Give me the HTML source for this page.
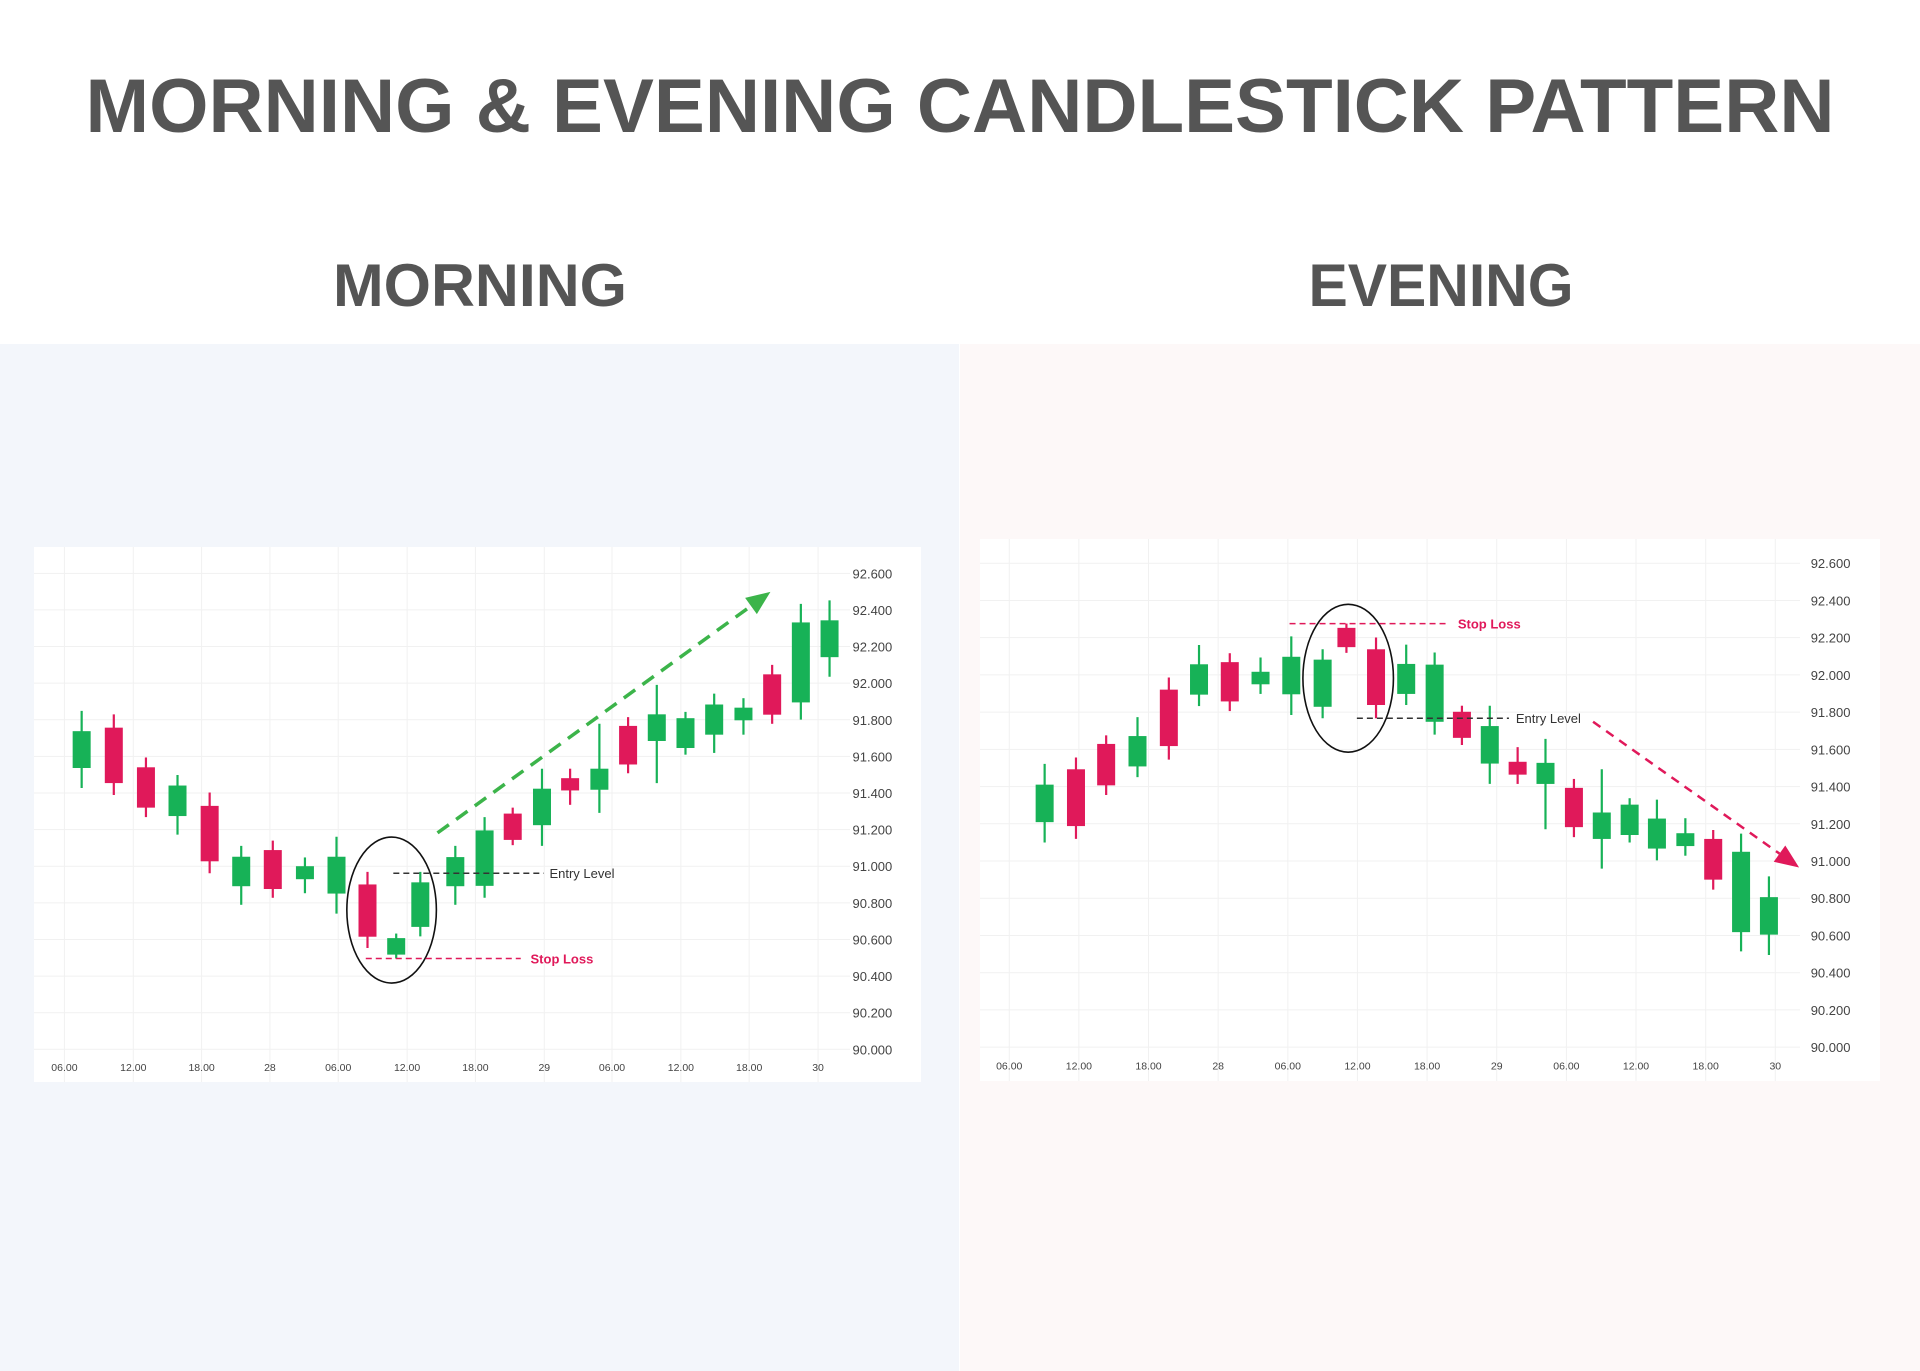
<!DOCTYPE html>
<html><head><meta charset="utf-8">
<style>
html,body{margin:0;padding:0;background:#fff;}
svg{display:block;}
text{font-family:"Liberation Sans",sans-serif;}
</style></head>
<body>
<svg id="s" width="1920" height="1371" viewBox="0 0 1920 1371" xmlns="http://www.w3.org/2000/svg">
<rect x="0" y="0" width="1920" height="1371" fill="#fff"/>
<rect x="0" y="344" width="959" height="1027" fill="#f3f6fb"/>
<rect x="960" y="344" width="960" height="1027" fill="#fdf8f8"/>
<text x="960" y="132" text-anchor="middle" font-size="76" font-weight="bold" fill="#555" textLength="1749" lengthAdjust="spacingAndGlyphs">MORNING &amp; EVENING CANDLESTICK PATTERN</text>
<text x="480" y="306" text-anchor="middle" font-size="60" font-weight="bold" fill="#555" textLength="294" lengthAdjust="spacingAndGlyphs">MORNING</text>
<text x="1441" y="306" text-anchor="middle" font-size="60" font-weight="bold" fill="#555" textLength="265" lengthAdjust="spacingAndGlyphs">EVENING</text>
<rect x="34" y="547" width="887" height="535" fill="#fff"/>
<rect x="980" y="539" width="900" height="542" fill="#fff"/>
<g id="g"></g>
</svg>
<script>
var G='#17b257',R='#e0195a',NS='http://www.w3.org/2000/svg',g=document.getElementById('g');
function el(t,a,txt){var e=document.createElementNS(NS,t);for(var k in a)e.setAttribute(k,a[k]);if(txt)e.textContent=txt;g.appendChild(e);return e;}
function chart(c){
 var X=function(z){return c.ox+z*c.sx},Y=function(z){return c.oy+z*c.sy};
 // grid
 c.xl.forEach(function(z){el('line',{x1:X(z),x2:X(z),y1:c.top,y2:c.bot,stroke:'#f1f1f1','stroke-width':1});});
 for(var i=0;i<14;i++){var zy=c.y0+i*(c.y1-c.y0)/13;el('line',{x1:c.left,x2:c.right,y1:Y(zy),y2:Y(zy),stroke:'#f1f1f1','stroke-width':1});
  el('text',{x:X(c.ylx),y:Y(zy)+5,'font-size':13,fill:'#444'},(92.6-i*0.2).toFixed(3));}
 var lab=['06.00','12.00','18.00','28','06.00','12.00','18.00','29','06.00','12.00','18.00','30'];
 c.xl.forEach(function(z,i){el('text',{x:X(z),y:Y(c.xly)+4,'font-size':10.5,fill:'#444','text-anchor':'middle'},lab[i]);});
 c.cs.forEach(function(d){var x=X(d[0]),col=d[5]?G:R;
  el('line',{x1:x,x2:x,y1:Y(d[1]),y2:Y(d[4]),stroke:col,'stroke-width':2.2});
  el('rect',{x:x-9,y:Y(d[2]),width:18,height:Y(d[3])-Y(d[2]),fill:col});});
 el('ellipse',{cx:X(c.el[0]),cy:Y(c.el[1]),rx:c.el[2]*c.sx,ry:c.el[3]*c.sy,fill:'none',stroke:'#111','stroke-width':1.6});
 el('line',{x1:X(c.en[1]),x2:X(c.en[2]),y1:Y(c.en[0]),y2:Y(c.en[0]),stroke:'#333','stroke-width':1.5,'stroke-dasharray':'6,4'});
 el('text',{x:X(c.en[3]),y:Y(c.en[0])+5,'font-size':13,fill:'#333'},'Entry Level');
 el('line',{x1:X(c.sl[1]),x2:X(c.sl[2]),y1:Y(c.sl[0]),y2:Y(c.sl[0]),stroke:R,'stroke-width':1.5,'stroke-dasharray':'6,4'});
 el('text',{x:X(c.sl[3]),y:Y(c.sl[0])+5,'font-size':13,fill:R,'font-weight':'bold'},'Stop Loss');
 var a=c.ar,x1=X(a[0]),y1=Y(a[1]),x2=X(a[2]),y2=Y(a[3]),ang=Math.atan2(y2-y1,x2-x1),L=24,W=10;
 var bx=x2-L*Math.cos(ang),by=y2-L*Math.sin(ang);
 el('line',{x1:x1,y1:y1,x2:bx,y2:by,stroke:a[4],'stroke-width':a[5],'stroke-dasharray':a[6]});
 el('polygon',{points:x2+','+y2+' '+(bx+W*Math.sin(ang))+','+(by-W*Math.cos(ang))+' '+(bx+8*Math.cos(ang)*0)+','+by+' '+(bx-W*Math.sin(ang))+','+(by+W*Math.cos(ang)),fill:a[4]});
}
chart({ox:30,oy:540,sx:900/1568,sy:550/1568,top:547,bot:1082,left:34,right:850,y0:95,y1:1452,ylx:1433,xly:1502,
 xl:[60,180,299,418,537,657,776,896,1014,1134,1253,1373],
 cs:[[90,487,545,650,707,1],[146,497,535,693,727,0],[202,620,648,763,790,0],[257,670,700,787,840,1],[313,720,758,916,950,0],[368,872,903,987,1040,1],[423,857,884,995,1020,0],[479,905,930,967,1007,1],[534,846,903,1008,1065,1],[588,946,982,1131,1163,0],[638,1122,1135,1182,1193,1],[680,946,976,1103,1130,1],[741,872,904,987,1040,1],[792,790,828,986,1020,1],[841,763,780,855,870,0],[892,652,709,813,872,1],[941,652,679,714,755,0],[992,524,652,712,778,1],[1042,505,530,640,665,0],[1092,413,497,573,693,1],[1142,490,508,593,612,1],[1192,438,469,555,607,1],[1243,451,478,514,555,1],[1293,356,383,498,524,0],[1343,182,235,463,512,1],[1393,172,229,334,390,1]],
 el:[630,1055,78,208],en:[950,633,895,905],sl:[1193,585,855,872],ar:[710,835,1290,148,'#3cb44a',3.5,'14,9']});
chart({ox:975,oy:530,sx:910/1568,sy:560/1568,top:539,bot:1081,left:980,right:1800,y0:93,y1:1448,ylx:1440,xly:1500,
 xl:[59,179,299,419,539,659,779,899,1019,1139,1259,1379],
 cs:[[120,655,713,818,875,1],[174,637,670,829,865,0],[226,575,599,715,742,0],[280,524,577,662,692,1],[334,413,447,605,643,0],[386,322,376,461,493,1],[439,345,370,480,507,0],[492,357,397,432,459,1],[545,298,355,460,518,1],[599,334,363,495,527,1],[640,262,274,328,344,0],[691,301,334,490,527,0],[743,321,375,459,490,1],[792,343,377,537,573,1],[839,492,509,582,602,0],[887,492,549,654,711,1],[935,608,649,685,711,0],[983,585,652,711,838,1],[1032,697,722,832,860,0],[1080,670,791,865,948,1],[1128,751,769,854,875,1],[1175,755,808,892,925,1],[1224,807,849,885,912,1],[1272,840,865,979,1007,0],[1320,850,901,1126,1180,1],[1368,970,1028,1133,1190,1]],
 el:[643,415,78,207],en:[527,658,920,932],sl:[262,542,815,832],ar:[1065,537,1420,945,R,2.5,'9,7']});
</script>
</body></html>
